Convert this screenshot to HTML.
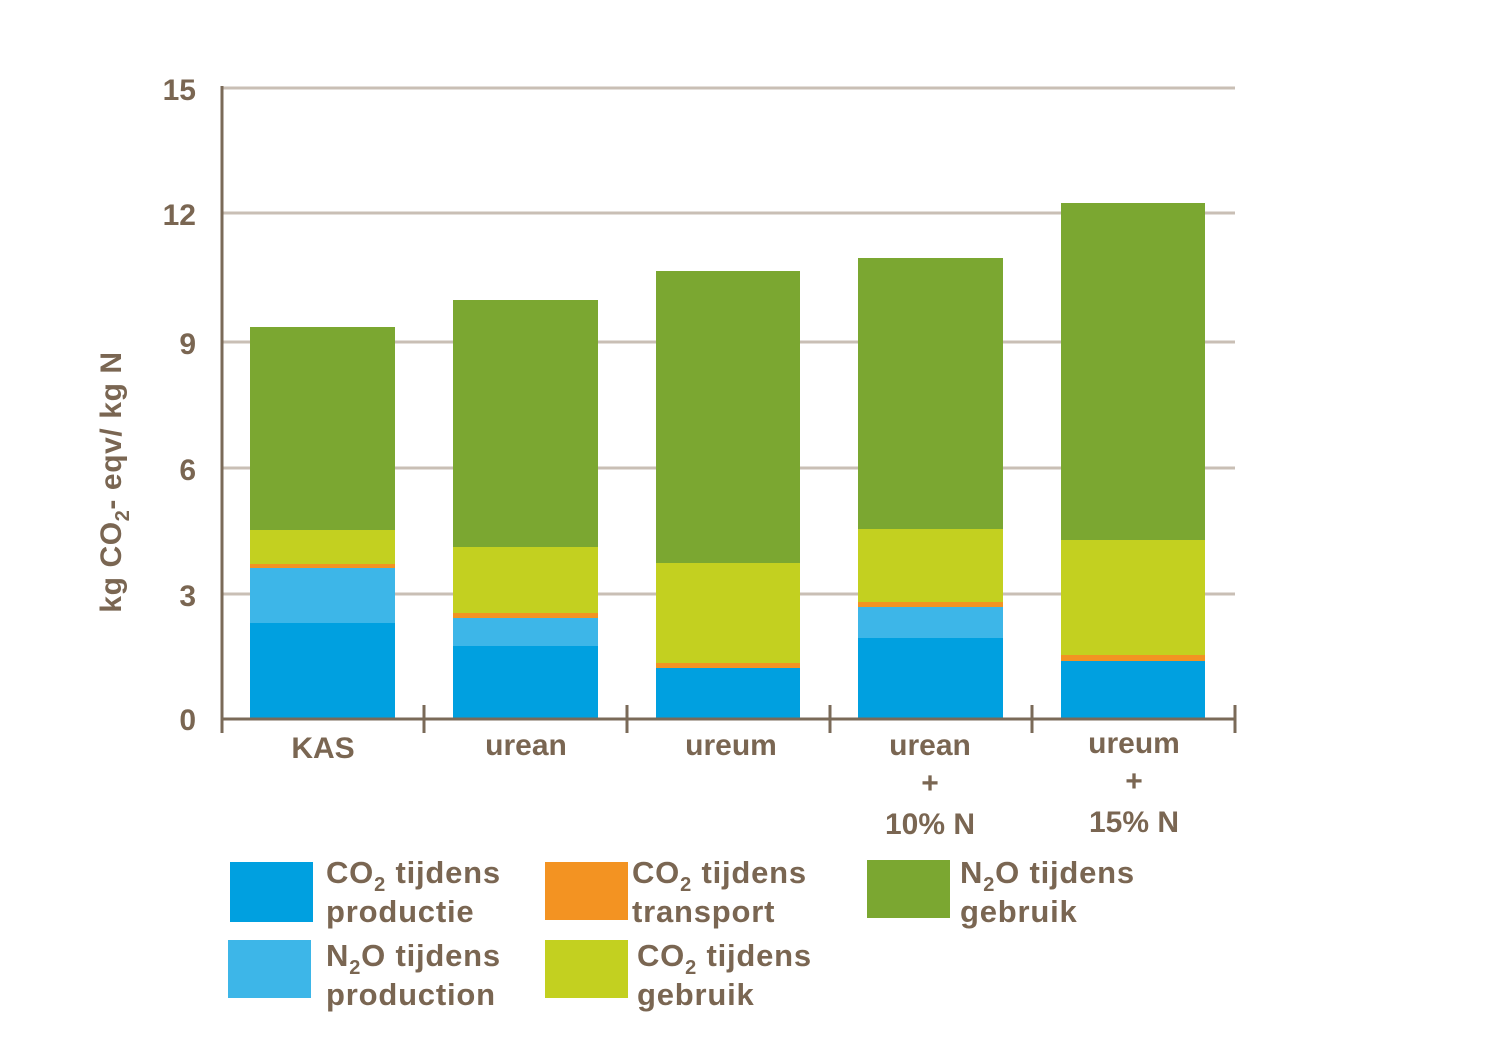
<!DOCTYPE html>
<html><head><meta charset="utf-8"><style>
body{margin:0;background:#fff;}
svg text{font-family:"Liberation Sans",sans-serif;font-weight:bold;fill:#7a6652;}
</style></head><body>
<svg width="1500" height="1034" viewBox="0 0 1500 1034" xmlns="http://www.w3.org/2000/svg">
<g stroke="#c9bfb5" stroke-width="3">
<line x1="222" y1="88" x2="1235" y2="88"/>
<line x1="222" y1="213" x2="1235" y2="213"/>
<line x1="222" y1="342" x2="1235" y2="342"/>
<line x1="222" y1="468" x2="1235" y2="468"/>
<line x1="222" y1="594" x2="1235" y2="594"/>
</g>
<g font-size="30" text-anchor="end">
<text x="196" y="100">15</text><text x="196" y="225">12</text><text x="196" y="354">9</text>
<text x="196" y="480">6</text><text x="196" y="606">3</text><text x="196" y="730">0</text>
</g>
<text font-size="30" letter-spacing="0.6" transform="translate(121,482) rotate(-90)" text-anchor="middle">kg CO<tspan font-size="20" dy="8">2</tspan><tspan dy="-8">- eqv/ kg N</tspan></text>
<g>
<rect x="250" y="623" width="145" height="96" fill="#00a0e0"/><rect x="250" y="568" width="145" height="55" fill="#3db6e8"/><rect x="250" y="564" width="145" height="4" fill="#f39322"/><rect x="250" y="530" width="145" height="34" fill="#c3d020"/><rect x="250" y="327" width="145" height="203" fill="#7ba731"/>
<rect x="453" y="646" width="145" height="73" fill="#00a0e0"/><rect x="453" y="618" width="145" height="28" fill="#3db6e8"/><rect x="453" y="613" width="145" height="5" fill="#f39322"/><rect x="453" y="547" width="145" height="66" fill="#c3d020"/><rect x="453" y="300" width="145" height="247" fill="#7ba731"/>
<rect x="656" y="668" width="144" height="51" fill="#00a0e0"/><rect x="656" y="663" width="144" height="5" fill="#f39322"/><rect x="656" y="563" width="144" height="100" fill="#c3d020"/><rect x="656" y="271" width="144" height="292" fill="#7ba731"/>
<rect x="858" y="638" width="145" height="81" fill="#00a0e0"/><rect x="858" y="607" width="145" height="31" fill="#3db6e8"/><rect x="858" y="602" width="145" height="5" fill="#f39322"/><rect x="858" y="529" width="145" height="73" fill="#c3d020"/><rect x="858" y="258" width="145" height="271" fill="#7ba731"/>
<rect x="1061" y="661" width="144" height="58" fill="#00a0e0"/><rect x="1061" y="655" width="144" height="6" fill="#f39322"/><rect x="1061" y="540" width="144" height="115" fill="#c3d020"/><rect x="1061" y="203" width="144" height="337" fill="#7ba731"/>
</g>
<g stroke="#7a6a58" stroke-width="3">
<line x1="222" y1="86" x2="222" y2="720"/>
<line x1="222" y1="719" x2="1236" y2="719"/>
<line x1="424" y1="705" x2="424" y2="733"/><line x1="627" y1="705" x2="627" y2="733"/><line x1="830" y1="705" x2="830" y2="733"/><line x1="1032" y1="705" x2="1032" y2="733"/><line x1="1235" y1="705" x2="1235" y2="733"/>
<line x1="222" y1="719" x2="222" y2="733"/>
</g>
<g font-size="30" text-anchor="middle">
<text x="323" y="758">KAS</text><text x="526" y="755">urean</text><text x="731" y="755">ureum</text>
<text x="930" y="755">urean</text><text x="930" y="793">+</text><text x="930" y="834">10% N</text>
<text x="1134" y="753">ureum</text><text x="1134" y="791">+</text><text x="1134" y="832">15% N</text>
</g>
<rect x="230" y="862" width="83" height="60" fill="#00a0e0"/>
<rect x="228" y="940" width="83" height="58" fill="#3db6e8"/>
<rect x="545" y="862" width="83" height="58" fill="#f39322"/>
<rect x="545" y="940" width="83" height="58" fill="#c3d020"/>
<rect x="867" y="860" width="83" height="58" fill="#7ba731"/>
<g font-size="31" letter-spacing="0.8">
<text x="326" y="883">CO<tspan font-size="20" dy="8">2</tspan><tspan dy="-8"> tijdens</tspan></text><text x="326" y="922">productie</text>
<text x="326" y="966">N<tspan font-size="20" dy="8">2</tspan><tspan dy="-8">O tijdens</tspan></text><text x="326" y="1005">production</text>
<text x="632" y="883">CO<tspan font-size="20" dy="8">2</tspan><tspan dy="-8"> tijdens</tspan></text><text x="632" y="922">transport</text>
<text x="637" y="966">CO<tspan font-size="20" dy="8">2</tspan><tspan dy="-8"> tijdens</tspan></text><text x="637" y="1005">gebruik</text>
<text x="960" y="883">N<tspan font-size="20" dy="8">2</tspan><tspan dy="-8">O tijdens</tspan></text><text x="960" y="922">gebruik</text>
</g>
</svg>
</body></html>
